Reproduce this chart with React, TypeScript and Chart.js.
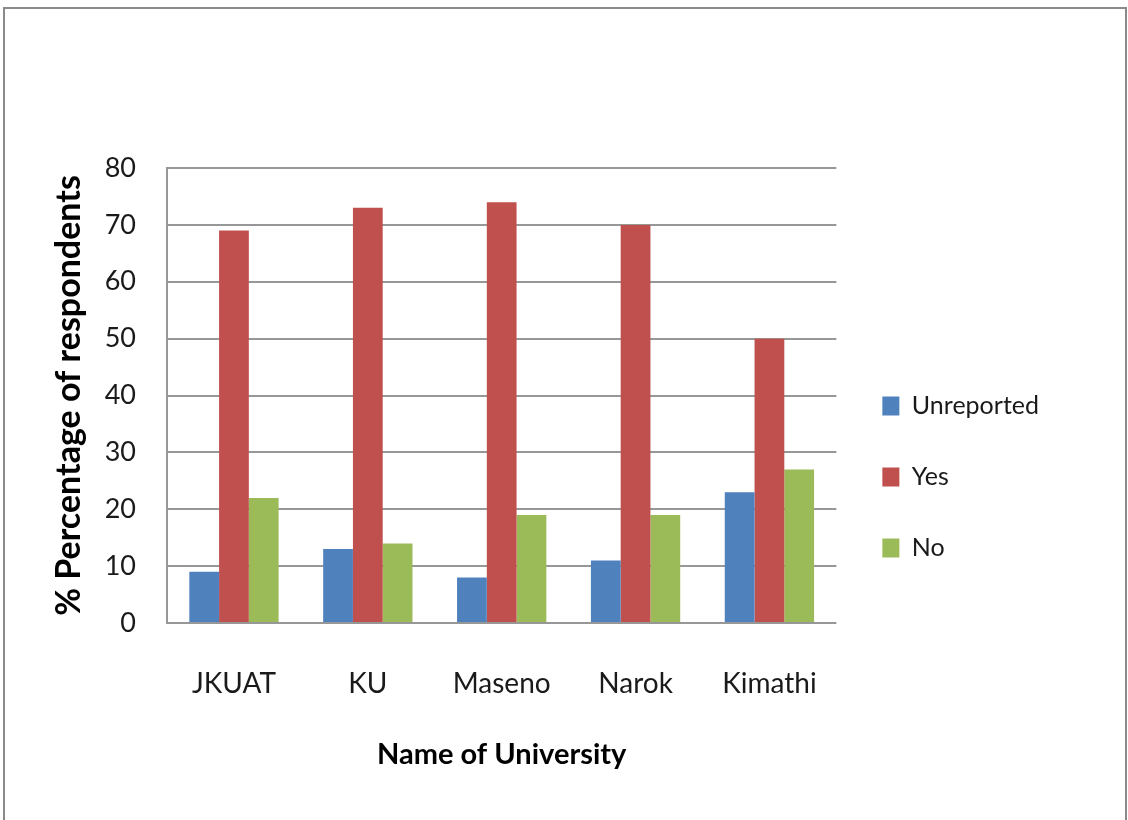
import React, { useEffect, useRef } from "react";
import { Chart, registerables } from "chart.js";

Chart.register(...registerables);

const categories = ["JKUAT", "KU", "Maseno", "Narok", "Kimathi"];
const seriesNames = ["Unreported", "Yes", "No"];
const unreported = [9, 13, 8, 11, 23];
const yes = [69, 73, 74, 70, 50];
const no = [22, 14, 19, 19, 27];
const yMin = 0;
const yMax = 80;
const yStep = 10;
const colors = ["#4F81BD", "#C0504D", "#9BBB59"];

const FONT = 'Lato, "Open Sans", "Noto Sans", sans-serif';

export default function App() {
  const ref = useRef<HTMLCanvasElement | null>(null);

  useEffect(() => {
    if (!ref.current) return;
    const values = [unreported, yes, no];
    const chart = new Chart(ref.current, {
      type: "bar",
      data: {
        labels: categories,
        datasets: seriesNames.map((name, i) => ({
          label: name,
          data: values[i],
          backgroundColor: colors[i],
          borderWidth: 0,
          categoryPercentage: 0.667,
          barPercentage: 1,
        })),
      },
      options: {
        responsive: false,
        animation: false,
        layout: { padding: { left: 20, right: 79, top: 168, bottom: 34 } },
        plugins: {
          tooltip: { enabled: false },
          legend: {
            position: "right",
            align: "center",
            labels: {
              boxWidth: 17,
              boxHeight: 19,
              padding: 46,
              color: "#1a1a1a",
              font: { family: FONT, size: 25 },
            },
          },
        },
        scales: {
          x: {
            grid: { display: false, drawTicks: false },
            border: { display: false },
            ticks: {
              color: "#1a1a1a",
              padding: 43.7,
              font: { family: FONT, size: 28 },
            },
            title: {
              display: true,
              text: "Name of University",
              color: "#000",
              font: { family: FONT, size: 29, weight: "bold" },
              padding: { top: -6.4, bottom: 13.6 },
            },
          },
          y: {
            min: yMin,
            max: yMax,
            ticks: {
              stepSize: yStep,
              color: "#1a1a1a",
              padding: 31,
              font: { family: FONT, size: 27 },
            },
            grid: { color: "#979797", lineWidth: 2, drawTicks: false },
            border: { display: true, color: "#979797", width: 2 },
            title: {
              display: true,
              text: "% Percentage of respondents",
              color: "#000",
              font: { family: FONT, size: 34, weight: "bold" },
              padding: { top: 28.6, bottom: -15.7 },
            },
          },
        },
      },
    });
    return () => chart.destroy();
  }, []);

  return (
    <div style={{ position: "absolute", left: 0, top: 0, width: 1128, height: 820, background: "#fff" }}>
      <div
        style={{
          position: "absolute",
          left: 3,
          top: 7,
          width: 1124,
          height: 813,
          boxSizing: "border-box",
          border: "2px solid #8a8a8a",
          borderBottom: "none",
        }}
      />
      <canvas
        ref={ref}
        width={1128}
        height={820}
        style={{ position: "absolute", left: 0, top: 0 }}
      />
    </div>
  );
}
